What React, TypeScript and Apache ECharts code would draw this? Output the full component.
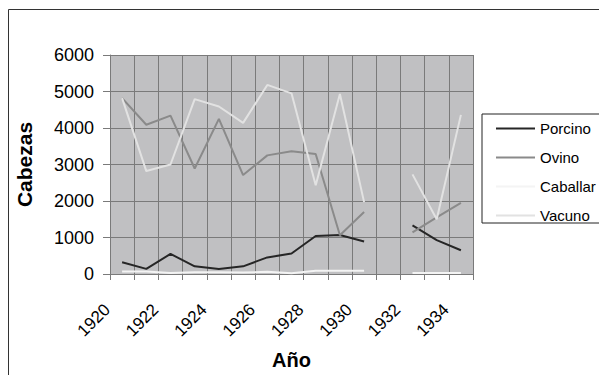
import React, { useEffect, useRef } from "react";
import * as echarts from "echarts";

// Years on the category axis (one band per year)
const years = [
  "1920", "1921", "1922", "1923", "1924", "1925", "1926", "1927",
  "1928", "1929", "1930", "1931", "1932", "1933", "1934",
];
// Tick labels sit on the band boundaries
const yearTicks = [
  "1920", "1921", "1922", "1923", "1924", "1925", "1926", "1927",
  "1928", "1929", "1930", "1931", "1932", "1933", "1934", "1935",
];

// Head counts per year (null = no data for 1931)
const porcino = [320, 140, 550, 210, 140, 210, 455, 560, 1040, 1070, 890, null, 1330, 930, 650];
const ovino = [4820, 4090, 4340, 2890, 4250, 2710, 3250, 3360, 3290, 1060, 1700, null, 1140, 1550, 1950];
const caballar = [70, 70, 30, 50, 50, 40, 60, 20, 90, 90, 90, null, 25, 25, 25];
const vacuno = [4820, 2820, 3000, 4790, 4590, 4140, 5180, 4950, 2430, 4930, 1970, null, 2730, 1500, 4360];

const yTicks = { min: 0, max: 6000, step: 1000 };

const FONT = "'Liberation Sans', Arial, sans-serif";

export default function App() {
  const ref = useRef<HTMLDivElement>(null);

  useEffect(() => {
    document.body.style.margin = "0";
    const chart = echarts.init(ref.current!, undefined, { renderer: "svg" });

    const line = (name: string, data: (number | null)[], color: string) => ({
      name,
      type: "line",
      xAxisIndex: 0,
      yAxisIndex: 0,
      data,
      symbol: "none",
      connectNulls: false,
      lineStyle: { color, width: 2 },
      itemStyle: { color },
    });

    chart.setOption({
      animation: false,
      backgroundColor: "#ffffff",
      textStyle: { fontFamily: FONT },
      graphic: [
        {
          type: "rect",
          shape: { x: 8.5, y: 9.5, width: 700, height: 500 },
          style: { fill: "none", stroke: "#333333", lineWidth: 1 },
          silent: true,
        },
      ],
      grid: {
        left: 110,
        right: 126,
        top: 55,
        bottom: 100,
        show: true,
        backgroundColor: "#c0c0c2",
        borderWidth: 0,
      },
      legend: {
        orient: "vertical",
        left: 482,
        top: 114,
        padding: [7, 40, 0, 14],
        icon: "rect",
        itemWidth: 39,
        itemHeight: 2,
        itemGap: 14,
        borderColor: "#222222",
        borderWidth: 1,
        textStyle: { fontFamily: FONT, fontSize: 15, color: "#000" },
        data: ["Porcino", "Ovino", "Caballar", "Vacuno"],
      },
      xAxis: [
        {
          type: "category",
          data: years,
          boundaryGap: true,
          name: "Año",
          nameLocation: "middle",
          nameGap: 76,
          nameTextStyle: { fontFamily: FONT, fontSize: 20, fontWeight: "bold", color: "#000" },
          axisLine: { show: true, lineStyle: { color: "#7a7a7a", width: 1 } },
          axisTick: { show: true, length: 6, interval: 0, lineStyle: { color: "#7a7a7a" } },
          axisLabel: { show: false },
          splitLine: { show: true, interval: 0, lineStyle: { color: "#7a7a7a", width: 1 } },
        },
        {
          type: "category",
          data: yearTicks,
          boundaryGap: false,
          position: "bottom",
          axisLine: { show: false },
          axisTick: { show: false },
          splitLine: { show: false },
          axisLabel: {
            interval: 1,
            rotate: 45,
            margin: 30,
            padding: [0, 4, 0, 0],
            fontFamily: FONT,
            fontSize: 17,
            color: "#000",
          },
        },
      ],
      yAxis: {
        type: "value",
        min: yTicks.min,
        max: yTicks.max,
        interval: yTicks.step,
        name: "Cabezas",
        nameLocation: "middle",
        nameGap: 75,
        nameTextStyle: { fontFamily: FONT, fontSize: 21, fontWeight: "bold", color: "#000" },
        axisLine: { show: true, lineStyle: { color: "#7a7a7a", width: 1 } },
        axisTick: { show: true, length: 7, lineStyle: { color: "#7a7a7a" } },
        axisLabel: {
          margin: 16,
          fontFamily: FONT,
          fontSize: 18,
          color: "#000",
          formatter: (v: number) => String(v),
        },
        splitLine: { show: true, lineStyle: { color: "#7a7a7a", width: 1 } },
      },
      series: [
        line("Porcino", porcino, "#262626"),
        line("Ovino", ovino, "#8a8a8a"),
        line("Caballar", caballar, "#f4f4f4"),
        line("Vacuno", vacuno, "#e2e2e2"),
      ],
    });

    return () => chart.dispose();
  }, []);

  return <div ref={ref} style={{ width: 599, height: 375 }} />;
}
